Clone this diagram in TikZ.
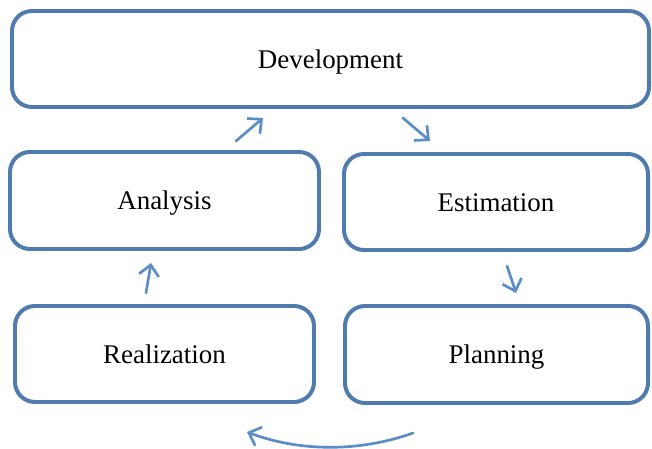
\documentclass[tikz,border=0pt]{standalone}
\usepackage{fontspec}
\setmainfont{Liberation Serif}
\usetikzlibrary{arrows.meta}

\definecolor{boxline}{HTML}{4F7BAD}
\definecolor{arrowline}{HTML}{5B8DC6}

\tikzset{
  phase/.style={draw=boxline, line width=3.4pt, rounded corners=17pt, fill=white,
    font=\fontsize{23}{27}\selectfont, inner sep=0pt, text height=20pt, text depth=4pt},
  flow/.style={draw=arrowline, line width=2.3pt, line cap=round,
    -{Straight Barb[length=9pt, width=17pt, line width=2.3pt]}}
}

\begin{document}
\begin{tikzpicture}[x=0.03cm, y=-0.03cm]
\useasboundingbox (0,0) rectangle (652,448);
\node [phase, minimum width=637*0.03cm, minimum height=96*0.03cm] (dev) at (330.5,59) {Development};
\node [phase, minimum width=309*0.03cm, minimum height=97*0.03cm] (ana) at (164.5,200.5) {Analysis};
\node [phase, minimum width=304*0.03cm, minimum height=96*0.03cm] (est) at (496,202) {Estimation};
\node [phase, minimum width=299*0.03cm, minimum height=96*0.03cm] (rea) at (164.5,354) {Realization};
\node [phase, minimum width=303*0.03cm, minimum height=97*0.03cm] (pla) at (496.5,354.5) {Planning};
% arrow ends in the gaps
\coordinate (anaout) at (236,141);
\coordinate (devin) at (263,118);
\coordinate (devout) at (403,118);
\coordinate (estin) at (430,141);
\coordinate (estout) at (507,266);
\coordinate (plain) at (516,293);
\coordinate (plaout) at (413,433);
\coordinate (reain) at (247,432);
\coordinate (reaout) at (146,293);
\coordinate (anain) at (151,263);
\draw [flow] (anaout) -- (devin);
\draw [flow] (devout) -- (estin);
\draw [flow] (estout) -- (plain);
\draw [flow] (plaout) .. controls (360,452) and (300,452) .. (reain);
\draw [flow] (reaout) -- (anain);
\end{tikzpicture}
\end{document}
